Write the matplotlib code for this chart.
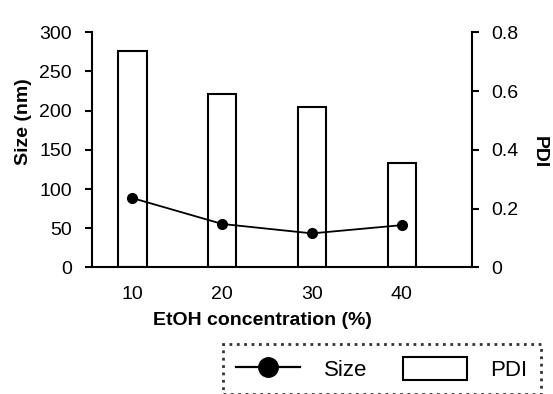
import numpy as np
import matplotlib
matplotlib.use("Agg")
import matplotlib.pyplot as plt
from matplotlib.patches import Patch
from matplotlib.lines import Line2D

plt.rcParams['font.family'] = ['Liberation Sans', 'DejaVu Sans']

# data
etoh = ['10', '20', '30', '40']
size_nm = [88.5, 55.5, 43.5, 54]
pdi = [0.736, 0.59, 0.546, 0.355]

size_ticks = [0, 50, 100, 150, 200, 250, 300]
pdi_ticks = [0, 0.2, 0.4, 0.6, 0.8]
pdi_ticklabels = ['0', '0.2', '0.4', '0.6', '0.8']

fig = plt.figure(figsize=(5.53, 3.94), dpi=100)
ax1 = fig.add_axes([0.1664, 0.3211, 0.6877, 0.597])
ax2 = ax1.twinx()
ax1.set_zorder(ax2.get_zorder() + 1)
ax1.patch.set_visible(False)

x = np.arange(len(etoh))

# PDI bars (right axis)
ax2.bar(x, pdi, width=0.316, facecolor='white', edgecolor='black', linewidth=1.5)
ax2.set_ylim(0, 0.8)
ax2.set_yticks(pdi_ticks)
ax2.set_yticklabels(pdi_ticklabels)

# Size line (left axis)
ax1.plot(x, size_nm, color='black', linewidth=1.3, marker='o', markersize=7)
ax1.set_ylim(0, 300)
ax1.set_yticks(size_ticks)
ax1.set_xlim(-0.451, 3.787)
ax1.set_xticks(x)
ax1.set_xticklabels(etoh)

for ax in (ax1, ax2):
    ax.spines['top'].set_visible(False)
    for s in ('left', 'right', 'bottom'):
        ax.spines[s].set_linewidth(1.5)
ax2.spines['bottom'].set_visible(False)
ax1.spines['right'].set_visible(False)
ax2.spines['left'].set_visible(False)

ax1.tick_params(axis='y', length=5, width=1.5, pad=9.5, labelsize=14)
ax1.tick_params(axis='x', length=0, pad=13, labelsize=14)
ax2.tick_params(axis='y', length=5, width=1.5, pad=8.5, labelsize=14)

ax1.set_ylabel('Size (nm)', fontsize=14, fontweight='bold', va='center')
ax1.yaxis.set_label_coords(-0.179, 0.619)
ax2.set_ylabel('PDI', fontsize=14, fontweight='bold', rotation=270, va='center')
ax2.yaxis.set_label_coords(1.175, 0.489)
ax1.set_xlabel('EtOH concentration (%)', fontsize=14, fontweight='bold', va='center')
ax1.xaxis.set_label_coords(0.448, -0.227)

handles = [Line2D([], [], color='black', linewidth=1.6, marker='o', markersize=14),
           Patch(facecolor='white', edgecolor='black', linewidth=1.5)]
leg = fig.legend(handles, ['Size', 'PDI'], ncol=2, loc='upper right',
                 bbox_to_anchor=(0.978, 0.127), fontsize=16, frameon=True,
                 fancybox=False, borderaxespad=0, borderpad=0.6,
                 handlelength=2.9, handleheight=1.18, handletextpad=1.05,
                 columnspacing=1.6)
frame = leg.get_frame()
frame.set_edgecolor('black')
frame.set_linewidth(2)
frame.set_linestyle(':')

fig.savefig('out.png', dpi=100)
